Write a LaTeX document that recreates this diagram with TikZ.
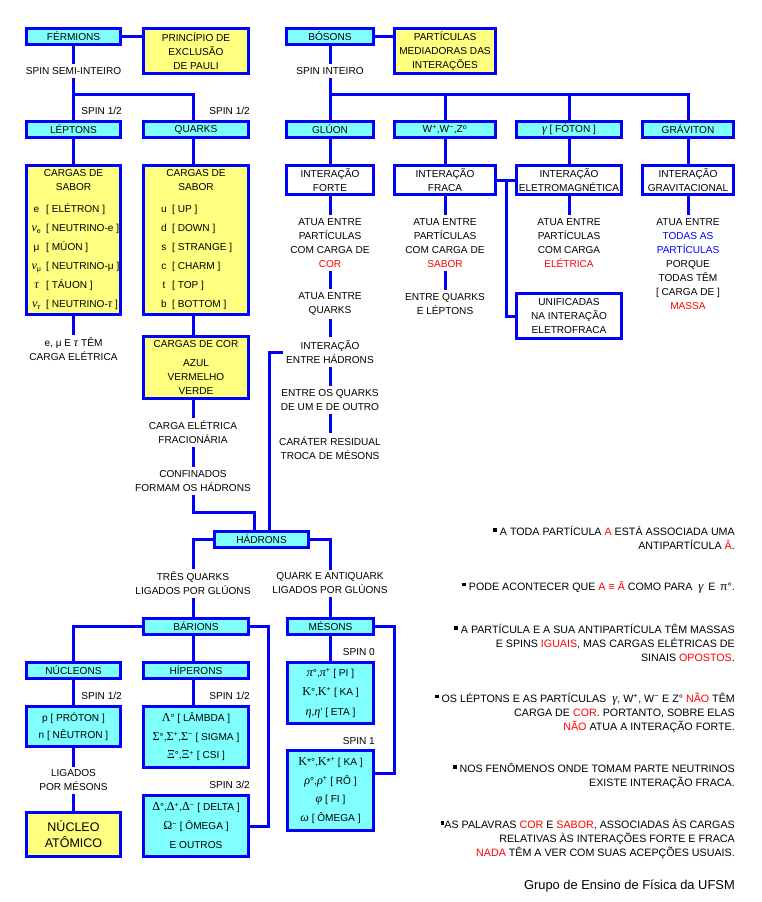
\documentclass[tikz,border=0pt]{standalone}
\usepackage{fontspec}
\setmainfont{Liberation Sans}
\newfontfamily\grk[Scale=1.2]{Liberation Serif}
\newcommand\gi[1]{{\grk\itshape #1}}
\newcommand\gu[1]{{\grk #1}}
\newcommand\rd[1]{\textcolor{red}{#1}}
\newcommand\bul{\raisebox{3.9pt}{\rule{3.5pt}{3.5pt}}}
\definecolor{bblue}{RGB}{0,0,255}
\definecolor{cyb}{RGB}{128,255,255}
\definecolor{yel}{RGB}{255,255,128}
\newcommand\bx[7][]{\node[box,#1,minimum width={#5-#3-3},minimum height={#6-#4-3}] (#2) at ({(#3+#5)/2},{(#4+#6)/2}) {#7};}
\begin{document}
\begin{tikzpicture}[x=1pt,y=-1pt,
  every node/.style={font=\fontsize{10.1}{14}\selectfont, inner sep=3pt, align=center},
  box/.style={draw=bblue, line width=3pt, inner sep=0pt},
  cy/.style={box, fill=cyb},
  ye/.style={box, fill=yel},
  wh/.style={box, fill=white},
  ln/.style={draw=bblue, line width=3pt},
  lab/.style={anchor=base east, inner sep=0pt},
  note/.style={anchor=east, align=right, inner sep=0pt, font=\fontsize{10.7}{14}\selectfont},
]
\useasboundingbox[fill=white] (0,0) rectangle (762,902);
% boxes
\bx[cy]{ferm}{25}{27}{122}{46}{FÉRMIONS}
\bx[ye]{pauli}{142}{27}{250}{75}{PRINCÍPIO DE\\EXCLUSÃO\\DE PAULI}
\bx[cy]{boson}{285}{27}{375}{46}{BÓSONS}
\bx[ye]{media}{393}{27}{497}{75}{PARTÍCULAS\\MEDIADORAS DAS\\INTERAÇÕES}
\bx[cy]{lept}{25}{120}{122}{139}{LÉPTONS}
\bx[cy]{quark}{142}{120}{250}{139}{QUARKS}
\bx[cy]{gluon}{285}{120}{375}{139}{GLÚON}
\bx[cy]{wz}{393}{120}{497}{139}{W\textsuperscript{+},W\textsuperscript{−},Z\textsuperscript{o}}
\bx[cy]{foton}{515}{120}{623}{139}{\gi{γ} [ FÓTON ]}
\bx[cy]{grav}{641}{120}{735}{139}{GRÁVITON}
\bx[ye]{sabl}{25}{164}{122}{316}{}
\bx[ye]{sabq}{142}{164}{250}{316}{}
\bx[wh]{forte}{285}{164}{375}{196}{INTERAÇÃO\\FORTE}
\bx[wh]{fraca}{393}{164}{497}{196}{INTERAÇÃO\\FRACA}
\bx[wh]{eletro}{515}{164}{623}{196}{INTERAÇÃO\\ELETROMAGNÉTICA}
\bx[wh]{gravi}{641}{164}{735}{196}{INTERAÇÃO\\GRAVITACIONAL}
\bx[wh]{unif}{515}{292}{623}{340}{UNIFICADAS\\NA INTERAÇÃO\\ELETROFRACA}
\bx[ye]{cor}{142}{335}{250}{400}{CARGAS DE COR\\[5pt]AZUL\\VERMELHO\\VERDE}
\bx[cy]{hadr}{213}{530}{310}{549}{HÁDRONS}
\bx[cy]{bar}{142}{617}{250}{636}{BÁRIONS}
\bx[cy]{mes}{286}{617}{375}{636}{MÉSONS}
\bx[cy]{nuc}{25}{661}{122}{680}{NÚCLEONS}
\bx[cy]{hip}{142}{661}{250}{680}{HÍPERONS}
\bx[cy]{pn}{25}{705}{122}{748}{p [ PRÓTON ]\\[3pt]n [ NÊUTRON ]}
\bx[ye,font=\fontsize{12.5}{16}\selectfont]{nucleo}{25}{811}{122}{858}{NÚCLEO\\ATÔMICO}
\bx[cy]{lam}{142}{705}{250}{769}{\gu{Λ}° [ LÂMBDA ]\\[4.5pt]\gu{Σ}°,\gu{Σ}\textsuperscript{+},\gu{Σ}\textsuperscript{−} [ SIGMA ]\\[4.5pt]\gu{Ξ}°,\gu{Ξ}\textsuperscript{+} [ CSI ]}
\bx[cy]{del}{142}{794}{250}{858}{\gu{Δ}°,\gu{Δ}\textsuperscript{+},\gu{Δ}\textsuperscript{−} [ DELTA ]\\[5pt]\gu{Ω}\textsuperscript{−} [ ÔMEGA ]\\[5pt]E OUTROS}
\bx[cy]{pi}{286}{661}{375}{725}{\gi{π}°,\gi{π}\textsuperscript{+} [ PI ]\\[5.5pt]\gu{K}°,\gu{K}\textsuperscript{+} [ KA ]\\[5.5pt]\gi{η},\gi{η}' [ ETA ]}
\bx[cy]{kst}{286}{749}{375}{832}{\gu{K}*°,\gu{K}*\textsuperscript{+} [ KA ]\\[4.7pt]\gi{ρ}°,\gi{ρ}\textsuperscript{+} [ RÔ ]\\[4.7pt]\gi{φ} [ FI ]\\[4.7pt]\gi{ω} [ ÔMEGA ]}
% box inner lines
\node (hl) at (73.5,180) {CARGAS DE\\SABOR};
\node (hq) at (196,180) {CARGAS DE\\SABOR};
\foreach \xs/\xb [count=\i] in {e/ELÉTRON, {\gi{ν}\textsubscript{e}}/NEUTRINO-e, μ/MÚON, {\gi{ν}\textsubscript{μ}}/NEUTRINO-μ, {\gi{τ}}/TÁUON, {\gi{ν}\textsubscript{\gi{τ}}}/{NEUTRINO-\gi{τ}}}{
  \node[anchor=base,inner sep=0pt] (ls\i) at (36.5,{193.6+19*\i}) {\xs};
  \node[anchor=base west,inner sep=0pt] (lb\i) at (46,{193.6+19*\i}) {[ \xb\ ]};
}
\foreach \xs/\xb [count=\i] in {u/UP, d/DOWN, s/STRANGE, c/CHARM, t/TOP, b/BOTTOM}{
  \node[anchor=base,inner sep=0pt] (qs\i) at (164,{193.6+19*\i}) {\xs};
  \node[anchor=base west,inner sep=0pt] (qb\i) at (172,{193.6+19*\i}) {[ \xb\ ]};
}
% free texts
\node (spinsemi) at (73.5,71) {SPIN SEMI-INTEIRO};
\node (spinint) at (330,71) {SPIN INTEIRO};
\node[lab] (s1) at (122,114.6) {SPIN 1/2};
\node[lab] (s2) at (250,114.6) {SPIN 1/2};
\node (lt) at (73.5,349.5) {e, μ E \gi{τ} TÊM\\CARGA ELÉTRICA};
\node (fr) at (193,432.5) {CARGA ELÉTRICA\\FRACIONÁRIA};
\node (conf) at (193,481) {CONFINADOS\\FORMAM OS HÁDRONS};
\node (t1) at (330,243) {ATUA ENTRE\\PARTÍCULAS\\COM CARGA DE\\\rd{COR}};
\node (t2) at (330,304) {ATUA ENTRE\\QUARKS};
\node (ieh) at (330,352) {INTERAÇÃO\\ENTRE HÁDRONS};
\node (t4) at (330,400) {ENTRE OS QUARKS\\DE UM E DE OUTRO};
\node (t5) at (330,448) {CARÁTER RESIDUAL\\TROCA DE MÉSONS};
\node (f1) at (445,243) {ATUA ENTRE\\PARTÍCULAS\\COM CARGA DE\\\rd{SABOR}};
\node (f2) at (445,304) {ENTRE QUARKS\\E LÉPTONS};
\node (e1) at (569,243) {ATUA ENTRE\\PARTÍCULAS\\COM CARGA\\\rd{ELÉTRICA}};
\node (g1) at (688,264) {ATUA ENTRE\\\textcolor{bblue}{TODAS AS}\\\textcolor{bblue}{PARTÍCULAS}\\PORQUE\\TODAS TÊM\\{}[ CARGA DE ]\\\rd{MASSA}};
\node (tq) at (193,583.5) {TRÊS QUARKS\\LIGADOS POR GLÚONS};
\node (qa) at (330,583.5) {QUARK E ANTIQUARK\\LIGADOS POR GLÚONS};
\node[lab] (s3) at (122,699.6) {SPIN 1/2};
\node[lab] (s4) at (250,699.6) {SPIN 1/2};
\node[lab] (s5) at (250,788.6) {SPIN 3/2};
\node[lab] (s6) at (375,655.6) {SPIN 0};
\node[lab] (s7) at (375,744.6) {SPIN 1};
\node (lig) at (73.5,780.5) {LIGADOS\\POR MÉSONS};
% notes
\node[note] (n1) at (735,538) {\bul\ A TODA PARTÍCULA \rd{A} ESTÁ ASSOCIADA UMA\\ANTIPARTÍCULA \rd{Ā}.};
\node[note] (n2) at (735,587) {\bul\ PODE ACONTECER QUE \rd{A ≡ Ā} COMO PARA \ \gi{γ} \,E \,π°.};
\node[note] (n3) at (735,643) {\bul\ A PARTÍCULA E A SUA ANTIPARTÍCULA TÊM MASSAS\\E SPINS \rd{IGUAIS}, MAS CARGAS ELÉTRICAS DE\\SINAIS \rd{OPOSTOS}.};
\node[note] (n4) at (735,712.5) {\bul\ OS LÉPTONS E AS PARTÍCULAS \ \gi{γ}, W\textsuperscript{+}, W\textsuperscript{−} E Z° \rd{NÃO} TÊM\\CARGA DE \rd{COR}. PORTANTO, SOBRE ELAS\\\rd{NÃO} ATUA A INTERAÇÃO FORTE.};
\node[note] (n5) at (735,776) {\bul\ NOS FENÔMENOS ONDE TOMAM PARTE NEUTRINOS\\EXISTE INTERAÇÃO FRACA.};
\node[note] (n6) at (735,839) {\bul AS PALAVRAS \rd{COR} E \rd{SABOR}, ASSOCIADAS ÀS CARGAS\\RELATIVAS ÀS INTERAÇÕES FORTE E FRACA\\\rd{NADA} TÊM A VER COM SUAS ACEPÇÕES USUAIS.};
\node[note,font=\fontsize{12.9}{14}\selectfont] (foot) at (735,886) {Grupo de Ensino de Física da UFSM};
% connectors
\coordinate (fb) at (73.5,94);
\coordinate (bb) at (330,94);
\coordinate (ch) at (254,512);
\coordinate (hx) at (269,0);
\coordinate (fe) at (506,180);
\coordinate (bd) at (268,0);
\coordinate (mk) at (394,773);
\draw[ln] (ferm.east) -- (ferm.east -| pauli.west);
\draw[ln] (boson.east) -- (boson.east -| media.west);
\draw[ln] (ferm.south) -- (spinsemi.north);
\draw[ln] (spinsemi.south) -- (fb) -- (fb -| fr) -- (quark.north -| fr);
\draw[ln] (fb) -- (lept.north);
\draw[ln] (lept.south) -- (sabl.north);
\draw[ln] (quark.south -| fr) -- (sabq.north -| fr);
\draw[ln] (sabl.south) -- (lt.north);
\draw[ln] (sabq.south -| fr) -- (cor.north -| fr);
\draw[ln] (cor.south -| fr) -- (fr.north);
\draw[ln] (fr.south) -- (conf.north);
\draw[ln] (conf.south) |- (ch) -- (ch |- hadr.north);
\draw[ln] (hadr.north -| hx) |- (ieh.west);
\draw[ln] (boson.south) -- (spinint.north);
\draw[ln] (spinint.south) -- (bb) -- (bb -| grav) -- (grav.north);
\draw[ln] (bb) -- (gluon.north);
\draw[ln] (bb -| wz) -- (wz.north);
\draw[ln] (bb -| foton) -- (foton.north);
\draw[ln] (gluon.south) -- (forte.north);
\draw[ln] (wz.south) -- (fraca.north);
\draw[ln] (foton.south) -- (eletro.north);
\draw[ln] (grav.south) -- (gravi.north);
\draw[ln] (forte.south) -- (t1.north);
\draw[ln] (t1.south) -- (t2.north);
\draw[ln] (t2.south) -- (ieh.north);
\draw[ln] (ieh.south) -- (t4.north);
\draw[ln] (t4.south) -- (t5.north);
\draw[ln] (fraca.south) -- (f1.north);
\draw[ln] (f1.south) -- (f2.north);
\draw[ln] (eletro.south) -- (e1.north);
\draw[ln] (gravi.south) -- (g1.north);
\draw[ln] (fraca.east) -- (eletro.west);
\draw[ln] (fe) |- (unif.west);
\draw[ln] (hadr.west) -| (tq.north);
\draw[ln] (hadr.east) -| (qa.north);
\draw[ln] (tq.south) -- (bar.north -| tq);
\draw[ln] (qa.south) -- (mes.north -| qa);
\draw[ln] (bar.west) -| (nuc.north);
\draw[ln] (bar.south -| tq) -- (hip.north -| tq);
\draw[ln] (bar.east) -| (bd |- del.east) -- (del.east);
\draw[ln] (mes.east) -| (mk) -- (mk -| kst.east);
\draw[ln] (mes.south -| qa) -- (pi.north -| qa);
\draw[ln] (nuc.south) -- (pn.north);
\draw[ln] (hip.south -| tq) -- (lam.north -| tq);
\draw[ln] (pn.south) -- (lig.north);
\draw[ln] (lig.south) -- (nucleo.north);
\end{tikzpicture}
\end{document}
